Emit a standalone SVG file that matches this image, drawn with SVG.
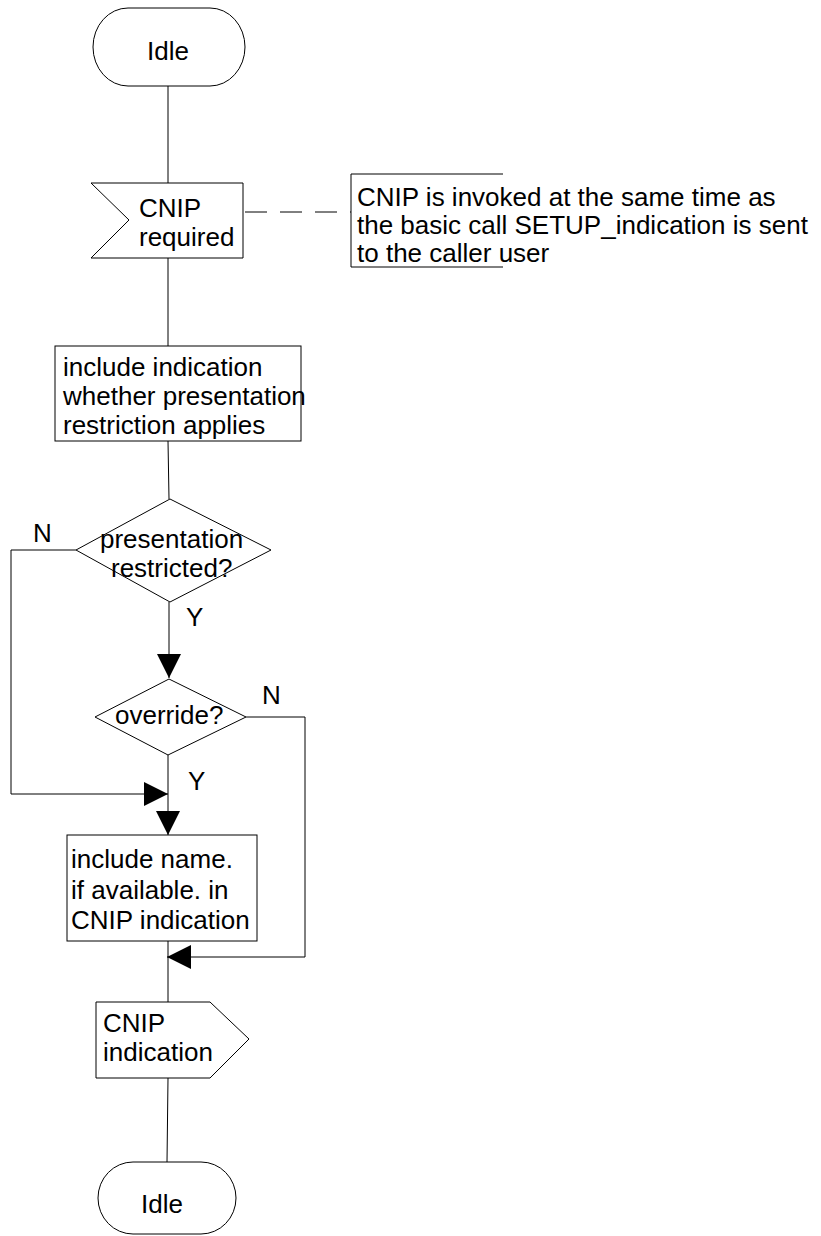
<svg xmlns="http://www.w3.org/2000/svg" width="821" height="1236" viewBox="0 0 821 1236">
  <style>
    .shape { fill: #fff; stroke: #000; stroke-width: 1; }
    .line { fill: none; stroke: #000; stroke-width: 1; }
    .dash { fill: none; stroke: #000; stroke-width: 1; stroke-dasharray: 22 13; }
    text { font-family: "Liberation Sans", Arial, sans-serif; font-size: 26px; fill: #000; }
  </style>
  <defs>
    <marker id="arrow" viewBox="0 0 24 24" refX="24" refY="12" markerWidth="24" markerHeight="24" markerUnits="userSpaceOnUse" orient="auto">
      <path d="M0,0 L24,12 L0,24 Z" fill="#000"/>
    </marker>
  </defs>

  <!-- connectors -->
  <g id="connectors">
    <line class="line" x1="168" y1="86" x2="168" y2="183"/>
    <line class="line" x1="168" y1="258" x2="168" y2="346"/>
    <line class="line" x1="168" y1="441" x2="169" y2="499"/>
    <line class="line" x1="169" y1="602" x2="169" y2="678" marker-end="url(#arrow)"/>
    <polyline class="line" points="76,550 11,550 11,794 168,794" marker-end="url(#arrow)"/>
    <line class="line" x1="168" y1="755" x2="168" y2="835" marker-end="url(#arrow)"/>
    <polyline class="line" points="246,717 305,717 305,957 167,957" marker-end="url(#arrow)"/>
    <line class="line" x1="168" y1="941" x2="168" y2="1002"/>
    <line class="line" x1="168" y1="1078" x2="167" y2="1162"/>
    <line class="dash" x1="245" y1="212" x2="351" y2="212"/>
    <text x="33" y="542">N</text>
    <text x="186" y="626">Y</text>
    <text x="262" y="704">N</text>
    <text x="188" y="790">Y</text>
  </g>

  <!-- start state -->
  <g id="idle-start">
    <rect class="shape" x="93" y="8" width="152" height="78" rx="35" ry="39"/>
    <text x="147" y="60">Idle</text>
  </g>

  <!-- input signal -->
  <g id="cnip-required">
    <polygon class="shape" points="91,183 243,183 243,258 91,258 129,220"/>
    <text x="139" y="217">CNIP</text>
    <text x="139" y="246">required</text>
  </g>

  <!-- comment -->
  <g id="comment">
    <polyline class="line" points="503,174 351,174 351,267 503,267"/>
    <text x="357" y="206">CNIP is invoked at the same time as</text>
    <text x="357" y="234">the basic call SETUP_indication is sent</text>
    <text x="357" y="262">to the caller user</text>
  </g>

  <!-- task -->
  <g id="include-indication">
    <rect class="shape" x="55" y="346" width="246" height="95"/>
    <text x="63" y="376">include indication</text>
    <text x="63" y="405">whether presentation</text>
    <text x="63" y="434">restriction applies</text>
  </g>

  <!-- decision -->
  <g id="presentation-restricted">
    <polygon class="shape" points="170,499 271,550 170,602 76,550"/>
    <text x="100" y="548">presentation</text>
    <text x="111" y="577">restricted?</text>
  </g>

  <!-- decision -->
  <g id="override">
    <polygon class="shape" points="169,679 246,717 168,755 95,717"/>
    <text x="115" y="724">override?</text>
  </g>

  <!-- task -->
  <g id="include-name">
    <rect class="shape" x="67" y="835" width="190" height="106"/>
    <text x="71" y="868">include name.</text>
    <text x="71" y="899">if available. in</text>
    <text x="71" y="929">CNIP indication</text>
  </g>

  <!-- output signal -->
  <g id="cnip-indication">
    <polygon class="shape" points="96,1002 210,1002 249,1039 210,1078 96,1078"/>
    <text x="103" y="1032">CNIP</text>
    <text x="103" y="1061">indication</text>
  </g>

  <!-- end state -->
  <g id="idle-end">
    <rect class="shape" x="98" y="1162" width="138" height="72" rx="35" ry="36"/>
    <text x="141" y="1213">Idle</text>
  </g>
</svg>
